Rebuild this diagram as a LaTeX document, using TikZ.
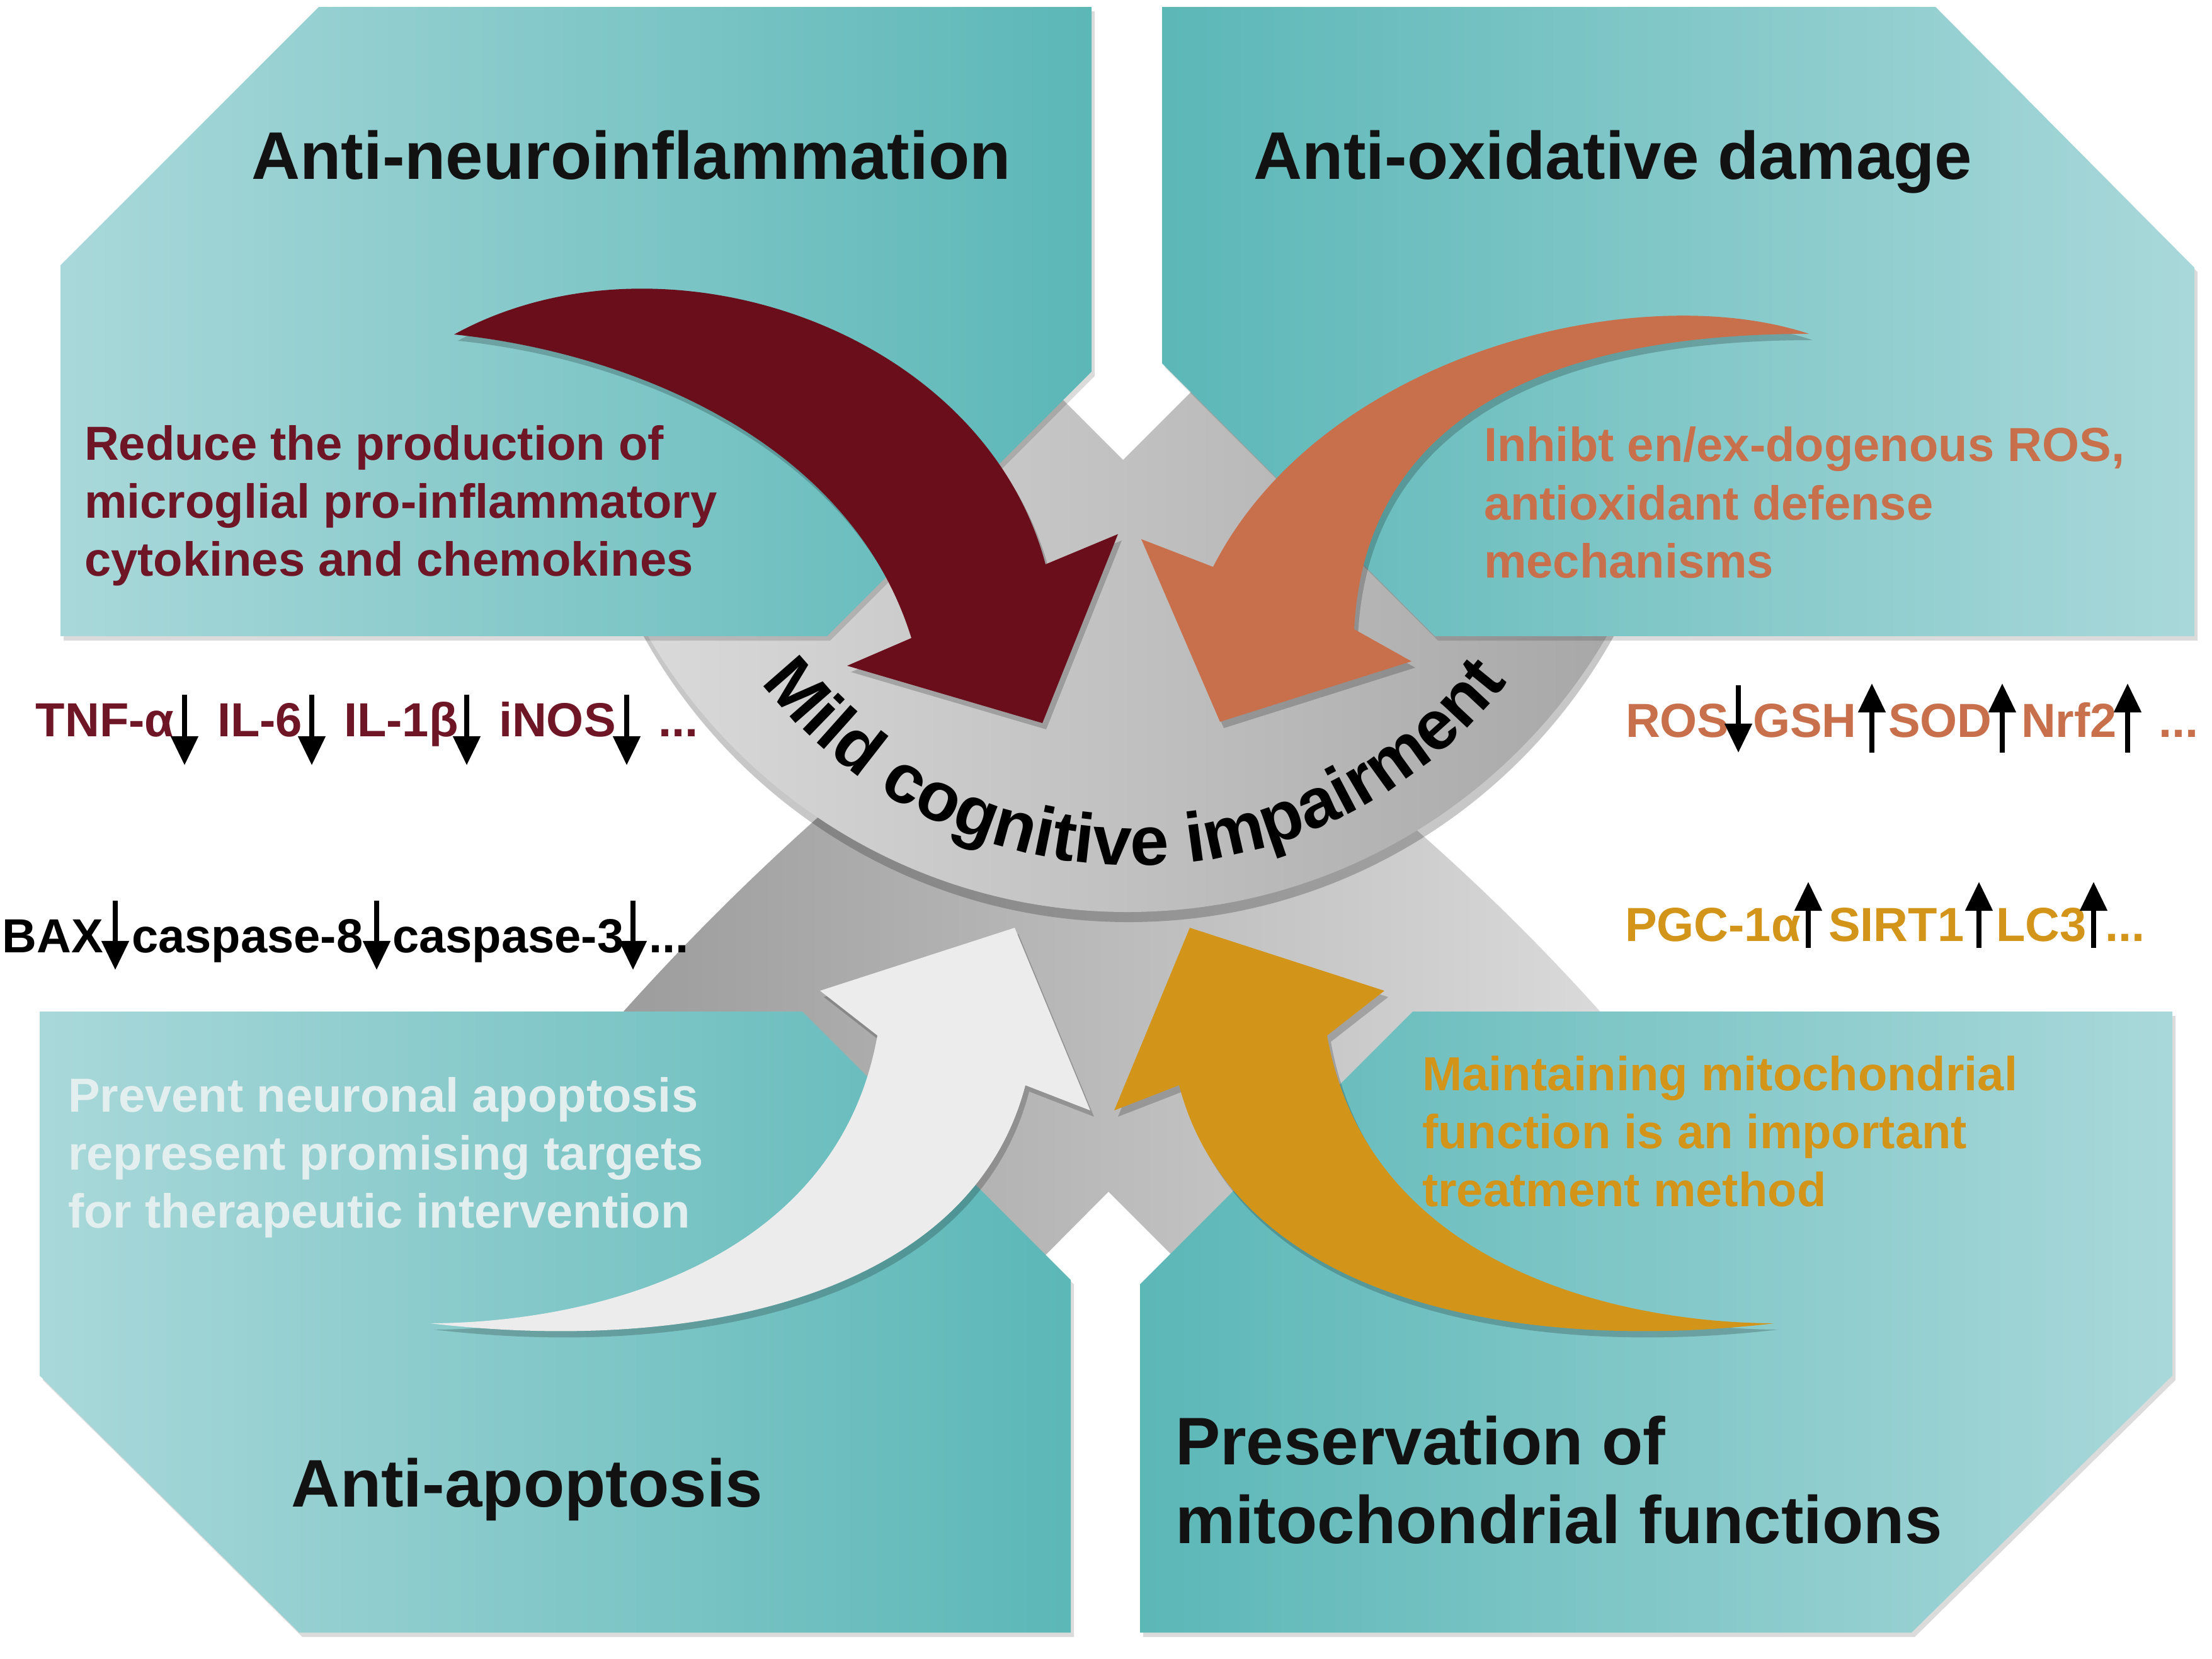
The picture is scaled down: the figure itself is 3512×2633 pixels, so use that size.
\documentclass[tikz,border=0pt]{standalone}
\usepackage{fontspec}
\setmainfont{Liberation Sans}
\usetikzlibrary{arrows.meta,decorations.text}

\definecolor{tealL}{HTML}{A9D8DA}
\definecolor{tealD}{HTML}{5CB7B7}
\definecolor{maroonC}{HTML}{6A0E1C}
\definecolor{maroonT}{HTML}{6E1526}
\definecolor{orangeC}{HTML}{C8704B}
\definecolor{goldC}{HTML}{D3941A}
\definecolor{whiteA}{HTML}{ECECEC}
\definecolor{lightT}{HTML}{E3EEEF}
\definecolor{greyL}{HTML}{DDDDDD}
\definecolor{greyD}{HTML}{A4A4A4}
\definecolor{petalL}{HTML}{999999}
\definecolor{petalR}{HTML}{DEDEDE}

\newcommand\ttlfont{\fontsize{30.4pt}{36pt}\selectfont\bfseries}
\newcommand\dscfont{\fontsize{21.6pt}{26pt}\selectfont\bfseries}
\newcommand\mcifont{\fontsize{31.5pt}{31.5pt}\selectfont\bfseries}

\tikzset{
  txt/.style={inner sep=0pt, outer sep=0pt},
  ttl/.style={txt, font=\ttlfont, text=black!93},
  dsc/.style={txt, font=\dscfont, anchor=base west},
  rowtxt/.style={txt, font=\dscfont, anchor=base west},
  smallarr/.style={line width=0.08cm, draw=black, -{Triangle[width=0.42cm,length=0.46cm]}},
  panelLR/.style={left color=tealL, right color=tealD,
     preaction={fill=black, fill opacity=0.14, transform canvas={shift={(0.05cm,-0.07cm)}}}},
  panelRL/.style={left color=tealD, right color=tealL,
     preaction={fill=black, fill opacity=0.14, transform canvas={shift={(0.05cm,-0.07cm)}}}},
  bigshadow/.style={preaction={fill=black, fill opacity=0.2, transform canvas={shift={(0.06cm,-0.1cm)}}}}
}

\begin{document}
\begin{tikzpicture}[x=0.01cm, y=-0.01cm]
\useasboundingbox (0,0) rectangle (3512,2633);
\fill[white] (0,0) rectangle (3512,2633);

% lower grey petals
\shade[left color=petalL, right color=petalR]
  (1400,1210) .. controls (1215,1365) and (1050,1530) .. (900,1710)
  -- (1250,2405) -- (1760,1892) -- (2300,2432) -- (2650,1734)
  .. controls (2500,1550) and (2335,1385) .. (2150,1234) -- cycle;

% central disk
\shade[left color=greyL, right color=greyD,
  preaction={fill=black, fill opacity=0.22, transform canvas={shift={(0.02cm,-0.16cm)}}}]
  (1790,568) circle[radius=880];

% top notch
\fill[white] (1783,730) -- (1043,-10) -- (2524,-10) -- cycle;

% panels
\path[panelLR] (96,421) -- (506,11) -- (1733,11) -- (1733,590) -- (1313,1010) -- (96,1010) -- cycle;
\path[panelRL] (1845,11) -- (3073,11) -- (3484,425) -- (3484,1010) -- (2278,1010) -- (1845,577) -- cycle;
\path[panelLR] (63,1606) -- (1274,1606) -- (1700,2032) -- (1700,2592) -- (475,2592) -- (63,2184) -- cycle;
\path[panelRL] (2243,1606) -- (3449,1606) -- (3449,2184) -- (3035,2592) -- (1810,2592) -- (1810,2039) -- cycle;

% big arrows
\fill[maroonC, bigshadow] (721,531) .. controls (1050,350) and (1560,520) .. (1660,896)
  -- (1775,848) -- (1655,1148) -- (1345,1057) -- (1447,1013)
  .. controls (1350,700) and (1000,560) .. (721,531) -- cycle;
\fill[orangeC, bigshadow] (2872,530) .. controls (2600,440) and (2100,560) .. (1926,900)
  -- (1812,856) -- (1937,1146) -- (2241,1050) -- (2150,999)
  .. controls (2165,700) and (2400,530) .. (2872,530) -- cycle;
\fill[whiteA, bigshadow] (683,2101) .. controls (950,2100) and (1330,2000) .. (1393,1644)
  -- (1302,1573) -- (1611,1473) -- (1731,1763) -- (1628,1723)
  .. controls (1540,2060) and (1100,2150) .. (683,2101) -- cycle;
\fill[goldC, bigshadow] (2817,2101) .. controls (2550,2100) and (2170,2000) .. (2107,1644)
  -- (2198,1573) -- (1889,1473) -- (1769,1763) -- (1872,1723)
  .. controls (1960,2060) and (2400,2150) .. (2817,2101) -- cycle;

% curved centre text
\path[decorate, decoration={text along path, text={|\mcifont|Mild cognitive impairment}, text align=center}]
  ([shift={(150:748)}]1801,626) arc[start angle=150, end angle=30, radius=748];

% titles
\node[ttl, anchor=base] (tA) at (1002,284) {Anti-neuroinflammation};
\node[ttl, anchor=base] (tB) at (2561,284) {Anti-oxidative damage};
\node[ttl, anchor=base] (tC) at (837,2392) {Anti-apoptosis};
\node[ttl, anchor=base west] (tD1) at (1866,2325) {Preservation of};
\node[ttl, anchor=base west] (tD2) at (1866,2450) {mitochondrial functions};

% descriptions
\node[dsc, text=maroonT] (dA1) at (134,730) {Reduce the production of};
\node[dsc, text=maroonT] (dA2) at (134,822) {microglial pro-inflammatory};
\node[dsc, text=maroonT] (dA3) at (134,914) {cytokines and chemokines};
\node[dsc, text=orangeC] (dB1) at (2356,732) {Inhibt en/ex-dogenous ROS,};
\node[dsc, text=orangeC] (dB2) at (2356,825) {antioxidant defense};
\node[dsc, text=orangeC] (dB3) at (2356,917) {mechanisms};
\node[dsc, text=lightT] (dC1) at (108,1765) {Prevent neuronal apoptosis};
\node[dsc, text=lightT] (dC2) at (108,1857) {represent promising targets};
\node[dsc, text=lightT] (dC3) at (108,1949) {for therapeutic intervention};
\node[dsc, text=goldC] (dD1) at (2258,1731) {Maintaining mitochondrial};
\node[dsc, text=goldC] (dD2) at (2258,1823) {function is an important};
\node[dsc, text=goldC] (dD3) at (2258,1915) {treatment method};

% row 1
\node[rowtxt, text=maroonT] (r1a) at (57,1169) {TNF-α};
\node[rowtxt, text=maroonT] (r1b) at (345,1169) {IL-6};
\node[rowtxt, text=maroonT] (r1c) at (546,1169) {IL-1β};
\node[rowtxt, text=maroonT] (r1d) at (792,1169) {iNOS};
\node[rowtxt, text=maroonT] (r1e) at (1045,1169) {...};
\foreach \n/\x in {1/293,2/495,3/741,4/995}{
  \coordinate (r1s\n) at (\x,1103); \coordinate (r1t\n) at (\x,1215);
  \draw[smallarr] (r1s\n) -- (r1t\n);}

% row 2
\node[rowtxt, text=orangeC] (r2a) at (2581,1170) {ROS};
\node[rowtxt, text=orangeC] (r2b) at (2783,1170) {GSH};
\node[rowtxt, text=orangeC] (r2c) at (2998,1170) {SOD};
\node[rowtxt, text=orangeC] (r2d) at (3209,1170) {Nrf2};
\node[rowtxt, text=orangeC] (r2e) at (3427,1170) {...};
\coordinate (r2s1) at (2760,1088); \coordinate (r2t1) at (2760,1195);
\draw[smallarr] (r2s1) -- (r2t1);
\foreach \n/\x in {2/2972,3/3179,4/3378}{
  \coordinate (r2s\n) at (\x,1195); \coordinate (r2t\n) at (\x,1085);
  \draw[smallarr] (r2s\n) -- (r2t\n);}

% row 3
\node[rowtxt, text=black] (r3a) at (4,1512) {BAX};
\node[rowtxt, text=black] (r3b) at (209,1512) {caspase-8};
\node[rowtxt, text=black] (r3c) at (623,1512) {caspase-3};
\node[rowtxt, text=black] (r3d) at (1030,1512) {...};
\foreach \n/\x in {1/183,2/598,3/1005}{
  \coordinate (r3s\n) at (\x,1430); \coordinate (r3t\n) at (\x,1540);
  \draw[smallarr] (r3s\n) -- (r3t\n);}

% row 4
\node[rowtxt, text=goldC] (r4a) at (2580,1494) {PGC-1α};
\node[rowtxt, text=goldC] (r4b) at (2903,1494) {SIRT1};
\node[rowtxt, text=goldC] (r4c) at (3169,1494) {LC3};
\node[rowtxt, text=goldC] (r4d) at (3342,1494) {...};
\foreach \n/\x in {1/2871,2/3142,3/3324}{
  \coordinate (r4s\n) at (\x,1505); \coordinate (r4t\n) at (\x,1400);
  \draw[smallarr] (r4s\n) -- (r4t\n);}
\end{tikzpicture}
\end{document}
